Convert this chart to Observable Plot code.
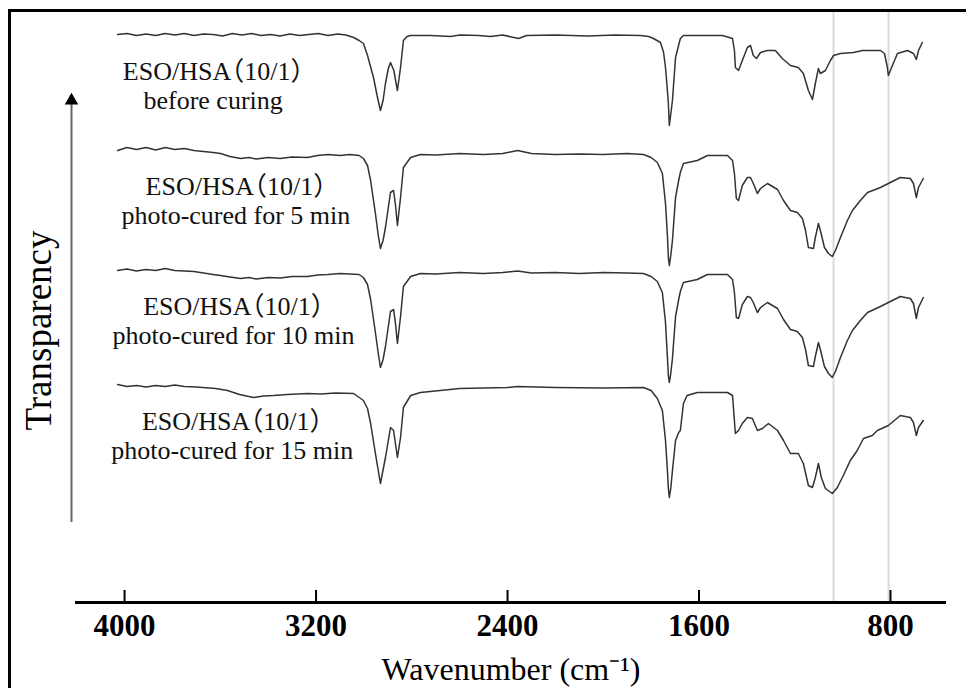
<!DOCTYPE html>
<html><head><meta charset="utf-8">
<script src="https://cdn.jsdelivr.net/npm/d3@7"></script>
<script src="https://cdn.jsdelivr.net/npm/@observablehq/plot@0.6"></script>
<style>
html,body{margin:0;padding:0;background:#fff;}
#wrap{position:relative;width:966px;height:688px;overflow:hidden;}
#frame{position:absolute;left:8px;top:9px;right:-10px;bottom:-10px;border-left:3px solid #000;border-top:3px solid #000;}
#chart{position:absolute;left:0;top:0;}
#chart svg text{font-feature-settings:"halt";}
</style></head><body><div id="wrap"><div id="frame"></div><div id="chart"></div></div>
<script>
// ---- data (wavenumber cm-1, transparency a.u.) ----
const seriesLabels = [
  "ESO/HSA（10/1）\nbefore curing",
  "ESO/HSA（10/1）\nphoto-cured for 5 min",
  "ESO/HSA（10/1）\nphoto-cured for 10 min",
  "ESO/HSA（10/1）\nphoto-cured for 15 min"
];
const stackOffsets = [442, 327, 207, 92];
const xTicks = [4000, 3200, 2400, 1600, 800];
const refLines = [1038, 808];
const xLabel = "Wavenumber (cm⁻¹)";
const yLabel = "Transparency";

const wn1 = [4029,3990,3950,3910,3870,3830,3790,3750,3710,3670,3630,3590,3550,3510,3470,3430,3390,3350,3310,3270,3230,3190,3150,3110,3075,3043,3020,3002,2985,2960,2945,2931,2920,2910,2898,2889,2875,2860,2847,2835,2820,2805,2720,2638,2600,2520,2471,2420,2354,2320,2200,2066,1950,1845,1810,1790,1761,1748,1740,1732,1728,1724,1716,1711,1698,1678,1665,1502,1460,1452,1448,1435,1419,1398,1385,1373,1360,1343,1314,1281,1252,1218,1185,1164,1143,1126,1114,1101,1093,1072,1051,1038,1009,955,917,842,825,813,809,792,771,729,704,692,683,667];
const t1 = [126,127,125,126.5,125,127,125.5,127,125,126.5,126,124.5,127,125.5,127,125,126,124.5,126.5,125,126,127,125,126.5,125.5,123,120,117,105,83,65,50,60,77,92,98,90,70,93,120,124,125,125,124,125.5,125,124,125.5,122,125,125.5,124.5,125.5,125,124,122,118,108,93,70,57,35,50,60,103,122,125,125,122,110,93,90,100,113,115,105,102,108,110,110,102,95,93,87,70,61,77,92,87,90,100,105,107,108,110,110,107,93,85,95,107,110,107,101,110,118];

const wn2 = [4029,3990,3950,3910,3870,3830,3790,3750,3710,3670,3630,3599,3560,3515,3480,3450,3400,3350,3300,3236,3194,3150,3100,3060,3020,3002,2985,2972,2952,2940,2931,2920,2910,2889,2876,2868,2860,2847,2835,2805,2764,2700,2600,2500,2420,2358,2300,2200,2100,2000,1900,1832,1800,1774,1753,1740,1732,1728,1724,1718,1711,1698,1685,1678,1665,1607,1565,1481,1460,1452,1444,1435,1419,1398,1385,1373,1356,1343,1314,1272,1247,1218,1189,1168,1155,1143,1122,1114,1101,1093,1076,1059,1043,1030,1009,980,959,926,896,842,809,759,717,704,692,683,663];
const t2 = [125,128,126,128,125.5,128,126,127,125,124,123,122,119,117,118,116.5,118,117,118.5,118,120,121,120,121,120,117,110,95,62,40,27,35,48,83,85,70,50,78,108,118,121,120.5,122,121,122,125,122,121,121.5,121,122,121,118,113,102,72,40,18,10,20,35,78,95,103,112,115,120,120,115,102,77,75,90,98,98,92,82,87,92,86,75,65,63,57,45,28,27,38,52,45,28,22,19,25,38,55,65,75,83,88,92,98,97,92,78,88,97];

const wn3 = wn2;
const t3 = [125,126.5,124.5,126,125,127,125,124.5,124,122.5,121,120,118.5,117,118,116.5,118,117.5,119,119,120.5,121,122,121.5,121,118,111,96,63,42,28,36,49,84,86,72,52,79,109,119,122,121.5,123,122,123,124.5,122.5,123,122,123,122.5,122,119,114,103,73,38,20,13,22,37,79,96,104,113,116,121,121,116,103,78,77,91,99,98,93,83,88,93,87,76,66,64,58,46,30,29,39,53,46,29,22,18,24,38,55,65,75,83,89,93,99,97,92,77,88,98];

const wn4 = [4029,3990,3950,3910,3870,3830,3790,3750,3700,3620,3570,3520,3461,3420,3378,3320,3236,3180,3120,3043,3002,2985,2972,2952,2931,2910,2889,2876,2860,2847,2835,2805,2764,2600,2400,2358,2200,2000,1832,1800,1774,1753,1740,1732,1728,1724,1718,1711,1698,1685,1678,1665,1650,1607,1565,1481,1460,1448,1435,1419,1398,1377,1356,1335,1310,1272,1247,1218,1185,1164,1143,1126,1114,1101,1089,1072,1043,1022,997,968,939,913,876,855,809,759,717,704,692,683,663];
const t4 = [126,124,125,123.5,125,124,125.5,124,123.5,122,120,116,113,114.5,115,116,117,116.5,117.5,117,110,102,87,57,27,53,83,80,53,73,103,115,118,122,123,124,123,122.5,123,120,112,100,70,40,22,13,22,40,70,78,80,107,115,118,118,118,115,77,80,87,93,92,80,82,87,80,70,57,57,47,25,23,33,47,33,22,17,23,35,50,60,72,75,80,85,95,93,88,75,83,90];

// ---- chart ----
const xDomain = [4205, 566];
const labelWn = [3630, 3535, 3545, 3550];
const spectra = [[wn1, t1], [wn2, t2], [wn3, t3], [wn4, t4]];
const rows = spectra.flatMap(([w, t], i) => w.map((x, j) => ({wn: x, v: t[j] + stackOffsets[i], s: i})));
const labelRows = seriesLabels.map((text, i) => ({text, v: stackOffsets[i] + 75, wn: labelWn[i]}));
const serif = "'Liberation Serif', 'Noto Sans CJK SC', serif";

const chart = Plot.plot({
  width: 966, height: 688,
  marginLeft: 75, marginRight: 20, marginTop: 12, marginBottom: 86,
  style: {fontFamily: serif, background: "transparent", color: "#000"},
  x: {domain: xDomain, ticks: xTicks},
  y: {domain: [0, 590], axis: null},
  marks: [
    Plot.ruleX(refLines, {stroke: "#dadada", strokeWidth: 2}),
    Plot.line(rows, {x: "wn", y: "v", z: "s", stroke: "#333", strokeWidth: 1.5}),
    Plot.text(labelRows, {x: "wn", y: "v", text: "text", fontSize: 26, lineHeight: 1.12, fill: "#111", fontFamily: serif}),
    Plot.ruleY([0], {stroke: "#000", strokeWidth: 3}),
    Plot.ruleX(xTicks, {y1: 0, y2: 12, stroke: "#000", strokeWidth: 2}),
    Plot.axisX({ticks: xTicks, tickSize: 0, tickPadding: 11, fontSize: 31, fontWeight: "bold", label: null, tickFormat: d => String(d)}),
    Plot.text([xLabel], {frameAnchor: "bottom", dy: 77, fontSize: 32, fill: "#000"}),
    Plot.text([yLabel], {frameAnchor: "left", textAnchor: "middle", dx: -36, dy: 23, rotate: -90, fontSize: 37, fill: "#000"}),
    Plot.ruleX([xDomain[0]], {y1: 80, y2: 500, dx: -4, stroke: "#666", strokeWidth: 2}),
    Plot.dot([xDomain[0]], {x: d => d, y: () => 502, dx: -4, symbol: "triangle", r: 5, fill: "#000", stroke: "none"})
  ]
});
document.getElementById("chart").appendChild(chart);
</script></body></html>
